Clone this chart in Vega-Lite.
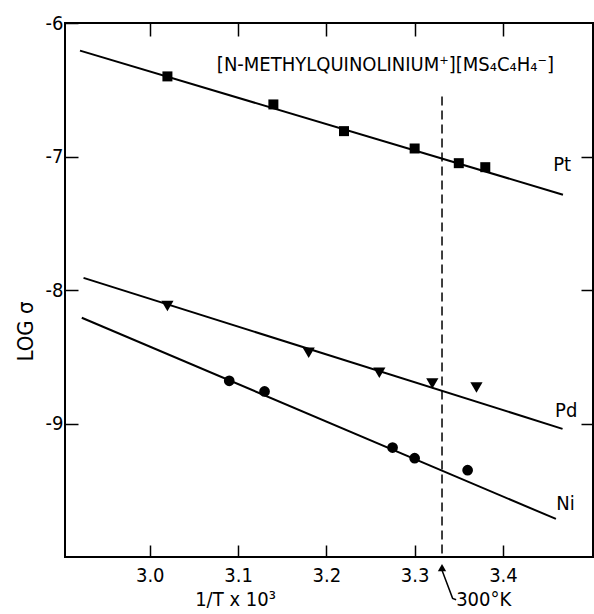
{
  "$schema": "https://vega.github.io/schema/vega-lite/v6.json",
  "width": 528,
  "height": 534,
  "autosize": {"type": "none"},
  "padding": {"left": 65, "top": 23, "right": 1, "bottom": 57},
  "background": "white",
  "config": {
    "font": "DejaVu Sans Condensed, Liberation Sans Narrow, DejaVu Sans, sans-serif",
    "view": {"stroke": "black", "strokeWidth": 2},
    "axis": {
      "domain": false,
      "grid": false,
      "tickColor": "black",
      "tickWidth": 1.5,
      "labelColor": "black",
      "labelFont": "DejaVu Sans Condensed, Liberation Sans Narrow, DejaVu Sans, sans-serif",
      "labelFontSize": 20,
      "titleFont": "DejaVu Sans Condensed, Liberation Sans Narrow, DejaVu Sans, sans-serif",
      "titleFontSize": 20,
      "titleFontWeight": "normal",
      "titleColor": "black"
    }
  },
  "datasets": {
    "fits": [
      {"metal": "Pt", "x": 2.921, "y": -6.207},
      {"metal": "Pt", "x": 3.468, "y": -7.286},
      {"metal": "Pd", "x": 2.925, "y": -7.909},
      {"metal": "Pd", "x": 3.4675, "y": -9.04},
      {"metal": "Ni", "x": 2.923, "y": -8.208},
      {"metal": "Ni", "x": 3.46, "y": -9.715}
    ],
    "pts": [
      {"metal": "Pt", "x": 3.02, "y": -6.40},
      {"metal": "Pt", "x": 3.14, "y": -6.61},
      {"metal": "Pt", "x": 3.22, "y": -6.81},
      {"metal": "Pt", "x": 3.30, "y": -6.94},
      {"metal": "Pt", "x": 3.35, "y": -7.05},
      {"metal": "Pt", "x": 3.38, "y": -7.08},
      {"metal": "Pd", "x": 3.02, "y": -8.12},
      {"metal": "Pd", "x": 3.18, "y": -8.47},
      {"metal": "Pd", "x": 3.26, "y": -8.62},
      {"metal": "Pd", "x": 3.32, "y": -8.70},
      {"metal": "Pd", "x": 3.37, "y": -8.73},
      {"metal": "Ni", "x": 3.09, "y": -8.68},
      {"metal": "Ni", "x": 3.13, "y": -8.76},
      {"metal": "Ni", "x": 3.275, "y": -9.18},
      {"metal": "Ni", "x": 3.30, "y": -9.26},
      {"metal": "Ni", "x": 3.36, "y": -9.35}
    ],
    "dash": [
      {"x": 3.331, "y": -6.55},
      {"x": 3.331, "y": -10.0}
    ],
    "arrow": [
      {"o": 1, "x": 3.331, "y": -10.1},
      {"o": 2, "x": 3.343, "y": -10.31},
      {"o": 3, "x": 3.347, "y": -10.32}
    ],
    "head": [
      {"x": 3.331, "y": -10.08}
    ],
    "labels": [
      {"text": "[N-METHYLQUINOLINIUM⁺][MS₄C₄H₄⁻]", "x": 3.076, "y": -6.312},
      {"text": "Pt", "x": 3.457, "y": -7.06},
      {"text": "Pd", "x": 3.459, "y": -8.906},
      {"text": "Ni", "x": 3.4605, "y": -9.60},
      {"text": "300°K", "x": 3.347, "y": -10.32}
    ]
  },
  "resolve": {"axis": {"x": "independent", "y": "independent"}},
  "layer": [
    {
      "data": {"name": "fits"},
      "mark": {"type": "line", "color": "black", "strokeWidth": 2},
      "encoding": {
        "x": {
          "field": "x", "type": "quantitative",
          "scale": {"domain": [2.904, 3.502], "zero": false, "nice": false},
          "axis": {
            "orient": "bottom",
            "values": [3.0, 3.1, 3.2, 3.3, 3.4],
            "format": ".1f",
            "tickSize": -12,
            "labelPadding": 20,
            "title": "1/T x 10³",
            "titleX": 170,
            "titleY": 42,
            "titleAlign": "center",
            "titleBaseline": "middle"
          }
        },
        "y": {
          "field": "y", "type": "quantitative",
          "scale": {"domain": [-10, -6], "zero": false, "nice": false},
          "axis": {
            "orient": "left",
            "values": [-6, -7, -8, -9],
            "labelExpr": "'-' + format(-datum.value, 'd')",
            "tickSize": -13,
            "labelPadding": 15,
            "title": "LOG σ",
            "titleFontSize": 22,
            "titleAngle": -90,
            "titleX": -40,
            "titleY": 308,
            "titleAlign": "center",
            "titleBaseline": "middle"
          }
        },
        "detail": {"field": "metal"}
      }
    },
    {
      "data": {"name": "dash"},
      "mark": {"type": "line", "color": "black", "strokeWidth": 1.5, "strokeDash": [9, 5]},
      "encoding": {
        "x": {
          "field": "x", "type": "quantitative",
          "scale": {"domain": [2.904, 3.502], "zero": false, "nice": false},
          "axis": {"orient": "top", "values": [3.0, 3.1, 3.2, 3.3, 3.4], "labels": false, "tickSize": -13, "title": null}
        },
        "y": {
          "field": "y", "type": "quantitative",
          "scale": {"domain": [-10, -6], "zero": false, "nice": false},
          "axis": {"orient": "right", "values": [-7, -8, -9], "labels": false, "tickSize": -12, "title": null}
        }
      }
    },
    {
      "data": {"name": "pts"},
      "transform": [{"filter": "datum.metal === 'Pt'"}],
      "mark": {"type": "point", "shape": "square", "filled": true, "color": "black", "opacity": 1, "size": 100},
      "encoding": {
        "x": {"field": "x", "type": "quantitative", "axis": null},
        "y": {"field": "y", "type": "quantitative", "axis": null}
      }
    },
    {
      "data": {"name": "pts"},
      "transform": [{"filter": "datum.metal === 'Pd'"}],
      "mark": {"type": "point", "shape": "triangle-down", "filled": true, "color": "black", "opacity": 1, "size": 150},
      "encoding": {
        "x": {"field": "x", "type": "quantitative", "axis": null},
        "y": {"field": "y", "type": "quantitative", "axis": null}
      }
    },
    {
      "data": {"name": "pts"},
      "transform": [{"filter": "datum.metal === 'Ni'"}],
      "mark": {"type": "point", "shape": "circle", "filled": true, "color": "black", "opacity": 1, "size": 115},
      "encoding": {
        "x": {"field": "x", "type": "quantitative", "axis": null},
        "y": {"field": "y", "type": "quantitative", "axis": null}
      }
    },
    {
      "data": {"name": "arrow"},
      "mark": {"type": "line", "color": "black", "strokeWidth": 1.5},
      "encoding": {
        "x": {"field": "x", "type": "quantitative", "axis": null},
        "y": {"field": "y", "type": "quantitative", "axis": null},
        "order": {"field": "o"}
      }
    },
    {
      "data": {"name": "head"},
      "mark": {"type": "point", "shape": "triangle-up", "filled": true, "color": "black", "opacity": 1, "size": 70},
      "encoding": {
        "x": {"field": "x", "type": "quantitative", "axis": null},
        "y": {"field": "y", "type": "quantitative", "axis": null}
      }
    },
    {
      "data": {"name": "labels"},
      "mark": {"type": "text", "align": "left", "baseline": "middle", "fontSize": 20, "color": "black", "font": "DejaVu Sans Condensed, Liberation Sans Narrow, DejaVu Sans, sans-serif"},
      "encoding": {
        "x": {"field": "x", "type": "quantitative", "axis": null},
        "y": {"field": "y", "type": "quantitative", "axis": null},
        "text": {"field": "text"}
      }
    }
  ]
}
